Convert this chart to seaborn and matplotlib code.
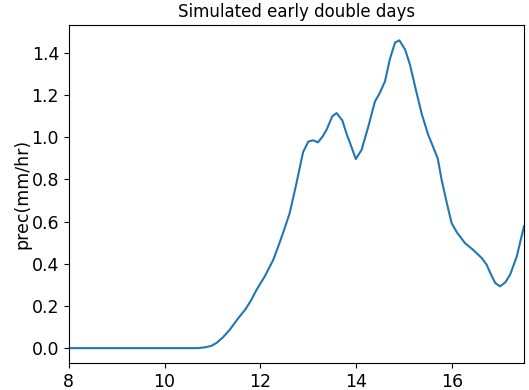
import matplotlib
matplotlib.use("Agg")
import matplotlib.pyplot as plt
import seaborn as sns
import pandas as pd

# Hour of day and simulated precipitation rate (mm/hr)
hours = [8.0, 8.5, 9.0, 9.5, 10.0, 10.5, 10.7, 10.85, 10.98, 11.08, 11.22, 11.36, 11.53, 11.69,
         11.8, 11.92, 12.09, 12.27, 12.4, 12.5, 12.61, 12.75, 12.89, 13.0, 13.1, 13.2, 13.3,
         13.38, 13.5, 13.59, 13.71, 13.8, 13.87, 13.99, 14.11, 14.25, 14.39, 14.49, 14.6,
         14.7, 14.81, 14.9, 15.02, 15.12, 15.26, 15.37, 15.5, 15.6, 15.7, 15.78, 15.89,
         15.99, 16.1, 16.27, 16.45, 16.62, 16.72, 16.8, 16.9, 17.0, 17.11, 17.21, 17.35, 17.5]
precip = [0.0, 0.0, 0.0, 0.0, 0.0, 0.0, 0.0, 0.004, 0.011, 0.024, 0.052, 0.087, 0.14, 0.185,
          0.225, 0.277, 0.34, 0.42, 0.50, 0.565, 0.64, 0.78, 0.93, 0.98, 0.986, 0.976, 1.005,
          1.036, 1.10, 1.115, 1.08, 1.015, 0.973, 0.897, 0.94, 1.05, 1.17, 1.21, 1.266,
          1.37, 1.45, 1.46, 1.416, 1.345, 1.21, 1.108, 1.013, 0.957, 0.90, 0.80, 0.688,
          0.593, 0.549, 0.498, 0.464, 0.427, 0.396, 0.355, 0.309, 0.293, 0.312, 0.348, 0.435, 0.578]

df = pd.DataFrame({"hour": hours, "precip": precip})

fig = plt.figure(figsize=(5.29, 3.9), dpi=100)
ax = fig.add_axes([0.130, 0.069, 0.8605, 0.867])
sns.lineplot(data=df, x="hour", y="precip", ax=ax, color="#1f77b4", linewidth=1.5)

ax.set_xlim(8, 17.5)
ax.set_ylim(-0.071, 1.533)
ax.set_xticks([8, 10, 12, 14, 16])
ax.set_yticks([0.0, 0.2, 0.4, 0.6, 0.8, 1.0, 1.2, 1.4])
ax.set_yticklabels(["0.0", "0.2", "0.4", "0.6", "0.8", "1.0", "1.2", "1.4"])
ax.tick_params(labelsize=12.5)
ax.set_xlabel("")
ax.set_ylabel("prec(mm/hr)", fontsize=12.5, labelpad=0)
ax.set_title("Simulated early double days", fontsize=12)

fig.savefig("out.png", dpi=100)
